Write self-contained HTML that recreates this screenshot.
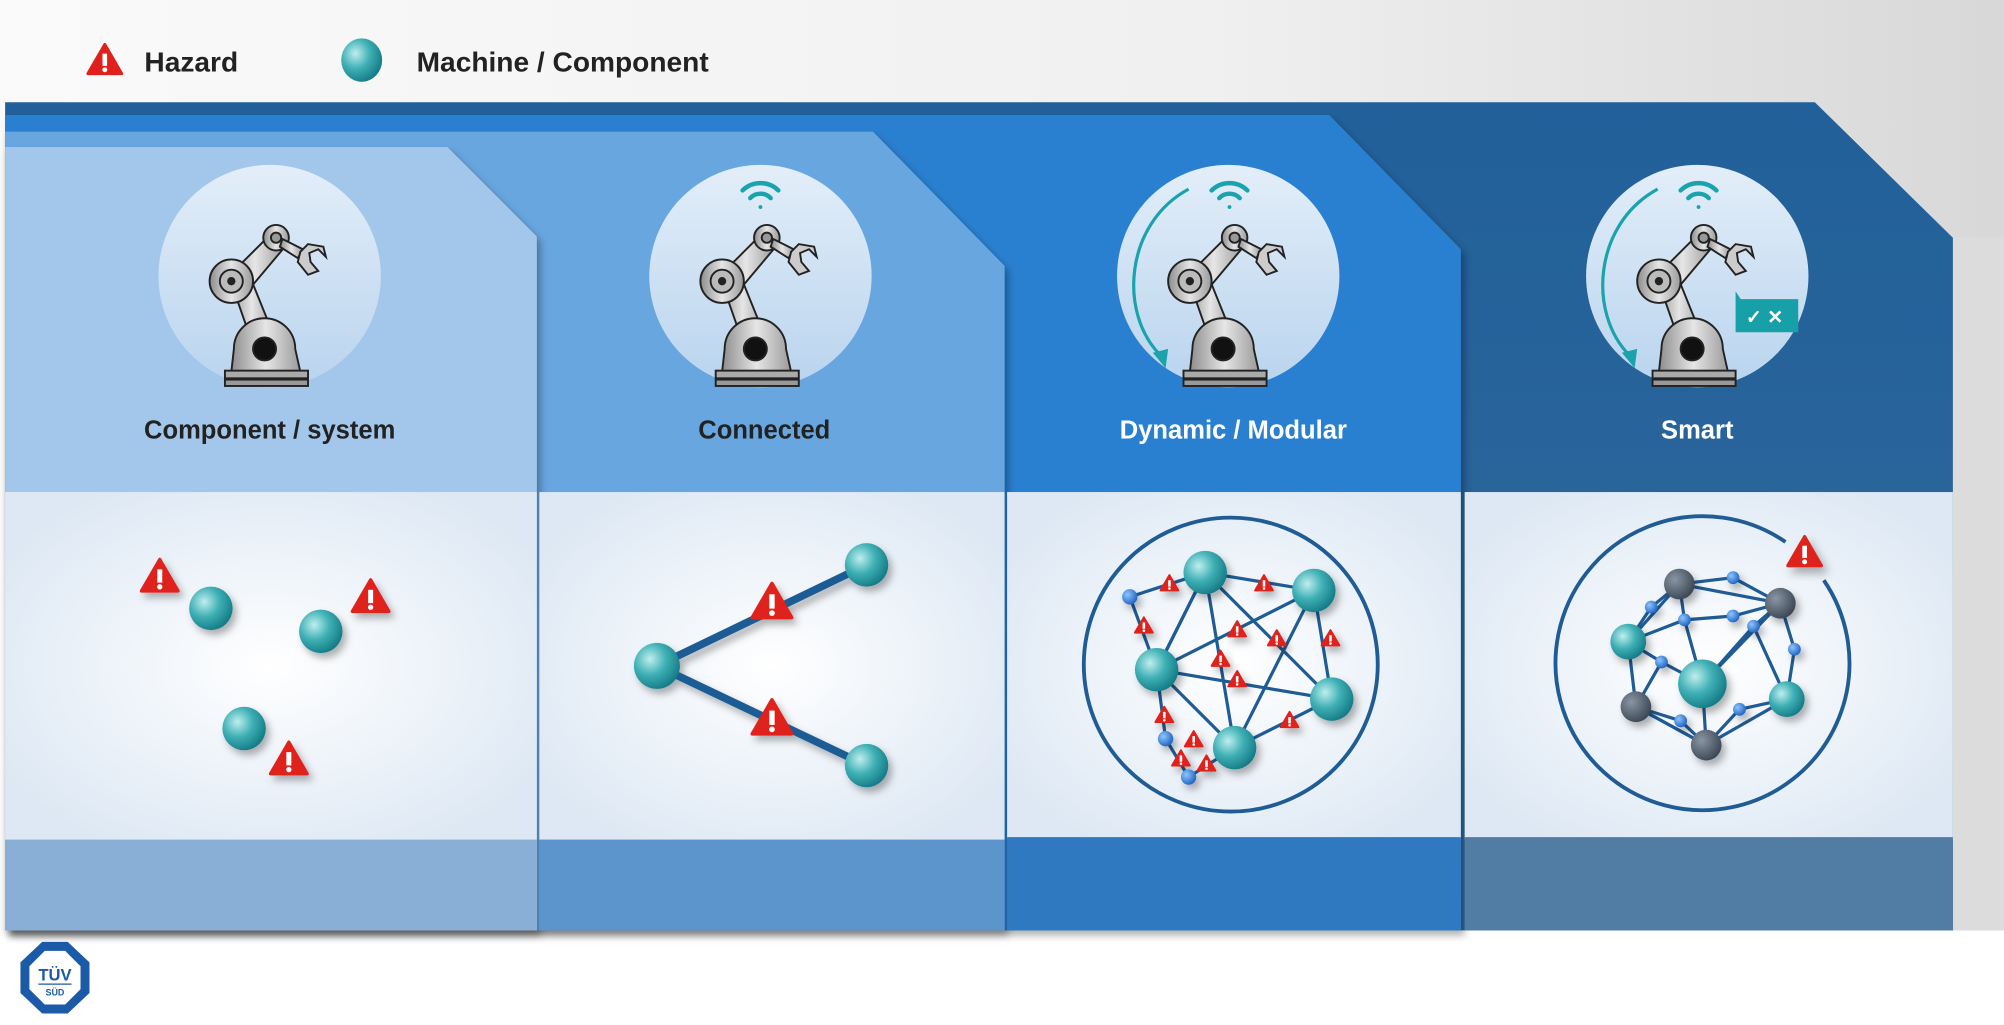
<!DOCTYPE html>
<html><head><meta charset="utf-8"><style>
html,body{margin:0;padding:0;background:#fff}
svg{display:block}
text{font-family:"Liberation Sans",sans-serif;font-weight:bold}
</style></head><body>
<svg width="2004" height="1025" viewBox="0 0 1568 802" preserveAspectRatio="none" xmlns="http://www.w3.org/2000/svg">
<defs>
<linearGradient id="bg" x1="0" x2="1" y1="0" y2="0"><stop offset="0" stop-color="#fafafa"/><stop offset="0.6" stop-color="#f0f0f0"/><stop offset="1" stop-color="#d8d8d8"/></linearGradient>
<linearGradient id="p4" x1="0" x2="0" y1="0" y2="1"><stop offset="0" stop-color="#21609a"/><stop offset="1" stop-color="#33699c"/></linearGradient>
<radialGradient id="sph" cx="0.35" cy="0.35" r="0.7"><stop offset="0" stop-color="#bfeeee"/><stop offset="0.5" stop-color="#3fb0b5"/><stop offset="1" stop-color="#137a85"/></radialGradient>
<radialGradient id="gsph" cx="0.35" cy="0.35" r="0.7"><stop offset="0" stop-color="#8a95a3"/><stop offset="1" stop-color="#3b4654"/></radialGradient>
<radialGradient id="bsph" cx="0.35" cy="0.35" r="0.7"><stop offset="0" stop-color="#8cc6ff"/><stop offset="1" stop-color="#1f62c0"/></radialGradient>
<radialGradient id="mid" cx="0.5" cy="0.5" r="0.6"><stop offset="0" stop-color="#ffffff"/><stop offset="1" stop-color="#dde8f4"/></radialGradient>
<linearGradient id="circ" x1="0" x2="0" y1="0" y2="1"><stop offset="0" stop-color="#e3eef9"/><stop offset="1" stop-color="#b9d4ee"/></linearGradient>
<linearGradient id="metal" x1="0" x2="1"><stop offset="0" stop-color="#8d8d8d"/><stop offset="0.5" stop-color="#e6e6e6"/><stop offset="1" stop-color="#9a9a9a"/></linearGradient>
<g id="haz"><path d="M0,-11 L11,8 L-11,8 Z" fill="#e0201c" stroke="#e0201c" stroke-width="2" stroke-linejoin="round"/><rect x="-1.5" y="-5" width="3" height="8" fill="#fff"/><circle cx="0" cy="5.5" r="1.6" fill="#fff"/></g>
<g id="hazs"><path d="M0,-7 L7,5 L-7,5 Z" fill="#e0201c" stroke="#e0201c" stroke-width="1.5" stroke-linejoin="round"/><rect x="-1" y="-3" width="2" height="5" fill="#fff"/><circle cx="0" cy="3.5" r="1" fill="#fff"/></g>
<g id="robot" stroke="#222" stroke-width="1.5">
<path d="M-33,-2 L-20,-10 L5,52 L-12,58 Z" fill="url(#metal)"/>
<path d="M-35,8 L-25,-6 L4,-35 L12,-22 L-20,16 Z" fill="url(#metal)"/>
<circle cx="-30" cy="5" r="17" fill="url(#metal)"/><circle cx="-30" cy="5" r="9" fill="#bbb"/><circle cx="-30" cy="5" r="2.5" fill="#222"/>
<circle cx="5" cy="-29" r="10" fill="url(#metal)"/><circle cx="5" cy="-29" r="4" fill="#999"/>
<path d="M10,-28 L26,-20 L22,-13 L8,-22 Z" fill="url(#metal)"/>
<path d="M24,-18 L30,-24 L42,-22 L44,-14 L38,-20 L31,-17 L32,-10 L38,-3 L30,0 L22,-10 Z" fill="#ccc"/>
<path d="M-28,58 A22,22 0 0 1 20,58 L24,76 L-30,76 Z" fill="url(#metal)"/>
<circle cx="-4" cy="58" r="9" fill="#111"/>
<rect x="-35" y="75" width="65" height="6" fill="#aaa"/><rect x="-35" y="82" width="65" height="5" fill="#999"/>
</g>
<g id="wifi" fill="none" stroke="#1aa3ad" stroke-width="3.5" stroke-linecap="round"><path d="M-14,-6 A20,20 0 0 1 14,-6"/><path d="M-8,0 A11,11 0 0 1 8,0"/><circle cx="0" cy="7" r="1.5" fill="#1aa3ad" stroke="none"/></g>
<filter id="sh" x="-50%" y="-50%" width="200%" height="200%"><feDropShadow dx="3" dy="4" stdDeviation="3" flood-opacity="0.3"/></filter>
</defs>

<rect width="1568" height="802" fill="url(#bg)"/>
<rect x="0" y="728" width="1568" height="74" fill="#fff"/>
<rect x="1528" y="186" width="40" height="542" fill="#dcdcdc"/>

<!-- legend -->
<use href="#haz" transform="translate(82,48) scale(1.2)"/>
<text x="113" y="56" font-size="22" fill="#222">Hazard</text>
<ellipse cx="283" cy="47" rx="16" ry="17" fill="url(#sph)"/>
<text x="326" y="56" font-size="22" fill="#222">Machine / Component</text>

<!-- panel 4 -->
<path d="M4,80 L1420,80 L1528,186 L1528,728 L4,728 Z" fill="url(#p4)"/>
<!-- panel 3 -->
<path d="M4,90 L1040,90 L1143,195 L1143,728 L4,728 Z" fill="#2a80d0" filter="url(#sh)"/>
<!-- panel 2 -->
<path d="M4,103 L683,103 L786,208 L786,728 L4,728 Z" fill="#68a6df" filter="url(#sh)"/>
<!-- panel 1 -->
<path d="M4,115 L350,115 L420,185 L420,728 L4,728 Z" fill="#a3c7eb" filter="url(#sh)"/>

<!-- middle -->
<rect x="4" y="385" width="416" height="272" fill="url(#mid)"/>
<rect x="422" y="385" width="364" height="272" fill="url(#mid)"/>
<rect x="788" y="385" width="355" height="272" fill="url(#mid)"/>
<rect x="1146" y="385" width="382" height="272" fill="url(#mid)"/>
<!-- bottom -->
<rect x="4" y="657" width="416" height="71" fill="#8aafd6"/>
<rect x="422" y="657" width="364" height="71" fill="#5b95cc"/>
<rect x="788" y="655" width="355" height="73" fill="#2e79bf"/>
<rect x="1146" y="655" width="382" height="73" fill="#517ca4"/>

<!-- header circles -->
<circle cx="211" cy="216" r="87" fill="url(#circ)"/>
<circle cx="595" cy="216" r="87" fill="url(#circ)"/>
<circle cx="961" cy="216" r="87" fill="url(#circ)"/>
<circle cx="1328" cy="216" r="87" fill="url(#circ)"/>
<use href="#robot" transform="translate(211,215)"/>
<use href="#robot" transform="translate(595,215)"/>
<use href="#robot" transform="translate(961,215)"/>
<use href="#robot" transform="translate(1328,215)"/>
<use href="#wifi" transform="translate(595,155)"/>
<use href="#wifi" transform="translate(962,155)"/>
<use href="#wifi" transform="translate(1329,155)"/>
<path d="M930,148 C880,175 875,245 908,278" fill="none" stroke="#1aa3ad" stroke-width="2.5"/><path d="M902,276 L912,288 L914,273 Z" fill="#1aa3ad"/>
<path d="M1297,148 C1247,175 1242,245 1275,278" fill="none" stroke="#1aa3ad" stroke-width="2.5"/><path d="M1269,276 L1279,288 L1281,273 Z" fill="#1aa3ad"/>
<path d="M1358,228 L1362,234 L1407,234 L1407,260 L1358,260 Z" fill="#18a0a8"/>
<text x="1366" y="253" font-size="15" fill="#fff">✓ ✕</text>

<text x="211" y="343" font-size="20" fill="#222" text-anchor="middle">Component / system</text>
<text x="598" y="343" font-size="20" fill="#222" text-anchor="middle">Connected</text>
<text x="965" y="343" font-size="20" fill="#fff" text-anchor="middle">Dynamic / Modular</text>
<text x="1328" y="343" font-size="20" fill="#fff" text-anchor="middle">Smart</text>

<!-- panel1 content -->
<g filter="url(#sh)">
<use href="#haz" transform="translate(125,452) scale(1.3)"/>
<use href="#haz" transform="translate(290,468) scale(1.3)"/>
<use href="#haz" transform="translate(226,595) scale(1.3)"/>
<circle cx="165" cy="476" r="17" fill="url(#sph)"/>
<circle cx="251" cy="494" r="17" fill="url(#sph)"/>
<circle cx="191" cy="570" r="17" fill="url(#sph)"/>
</g>
<!-- panel2 -->
<g filter="url(#sh)">
<path d="M678,442 L514,521 L678,599" fill="none" stroke="#1f5b94" stroke-width="6"/>
<circle cx="514" cy="521" r="18" fill="url(#sph)"/>
<circle cx="678" cy="442" r="17" fill="url(#sph)"/>
<circle cx="678" cy="599" r="17" fill="url(#sph)"/>
<use href="#haz" transform="translate(604,472) scale(1.4)"/>
<use href="#haz" transform="translate(604,563) scale(1.4)"/>
</g>
<!-- panel3 -->
<circle cx="963" cy="520" r="115" fill="none" stroke="#1f5b94" stroke-width="3"/>
<g stroke="#1f5b94" stroke-width="2.5" fill="none">
<path d="M943,448 L1028,462 L1042,547 L966,585 L905,524 Z"/>
<path d="M943,448 L905,524 M943,448 L966,585 M943,448 L1042,547 M1028,462 L905,524 M1028,462 L966,585 M905,524 L1042,547 M884,467 L943,448 M884,467 L905,524 M905,524 L912,578 L930,608 L966,585"/>
</g>
<g filter="url(#sh)">
<circle cx="943" cy="448" r="17" fill="url(#sph)"/>
<circle cx="1028" cy="462" r="17" fill="url(#sph)"/>
<circle cx="905" cy="524" r="17" fill="url(#sph)"/>
<circle cx="1042" cy="547" r="17" fill="url(#sph)"/>
<circle cx="966" cy="585" r="17" fill="url(#sph)"/>
<circle cx="884" cy="467" r="6" fill="url(#bsph)"/>
<circle cx="912" cy="578" r="6" fill="url(#bsph)"/>
<circle cx="930" cy="608" r="6" fill="url(#bsph)"/>
<use href="#hazs" transform="translate(915,457)"/>
<use href="#hazs" transform="translate(989,457)"/>
<use href="#hazs" transform="translate(895,490)"/>
<use href="#hazs" transform="translate(968,493)"/>
<use href="#hazs" transform="translate(999,500)"/>
<use href="#hazs" transform="translate(1041,500)"/>
<use href="#hazs" transform="translate(955,516)"/>
<use href="#hazs" transform="translate(968,532)"/>
<use href="#hazs" transform="translate(911,560)"/>
<use href="#hazs" transform="translate(1009,564)"/>
<use href="#hazs" transform="translate(934,579)"/>
<use href="#hazs" transform="translate(924,594)"/>
<use href="#hazs" transform="translate(944,598)"/>
</g>
<!-- panel4 -->
<path d="M1397,424 A115,115 0 1 0 1427,454" fill="none" stroke="#1f5b94" stroke-width="3"/>
<use href="#haz" transform="translate(1412,433) scale(1.2)" filter="url(#sh)"/>
<g stroke="#1f5b94" stroke-width="2.5" fill="none">
<path d="M1314,457 L1356,452 L1393,472 L1404,508 L1398,547 L1335,583 L1280,553 L1274,502 L1314,457"/>
<path d="M1314,457 L1393,472 M1314,457 L1318,485 L1332,535 M1274,502 L1318,485 L1356,482 L1393,472 M1393,472 L1332,535 M1393,472 L1372,490 L1398,547 M1274,502 L1300,518 L1332,535 M1280,553 L1300,518 M1332,535 L1372,490 M1332,535 L1335,583 M1280,553 L1315,564 L1335,583 M1398,547 L1361,555 L1335,583 M1274,502 L1292,475 L1314,457 M1280,553 L1335,583"/>
</g>
<g filter="url(#sh)">
<circle cx="1314" cy="457" r="12" fill="url(#gsph)"/>
<circle cx="1393" cy="472" r="12" fill="url(#gsph)"/>
<circle cx="1280" cy="553" r="12" fill="url(#gsph)"/>
<circle cx="1335" cy="583" r="12" fill="url(#gsph)"/>
<circle cx="1274" cy="502" r="14" fill="url(#sph)"/>
<circle cx="1332" cy="535" r="19" fill="url(#sph)"/>
<circle cx="1398" cy="547" r="14" fill="url(#sph)"/>
<circle cx="1356" cy="452" r="5" fill="url(#bsph)"/>
<circle cx="1292" cy="475" r="5" fill="url(#bsph)"/>
<circle cx="1318" cy="485" r="5" fill="url(#bsph)"/>
<circle cx="1356" cy="482" r="5" fill="url(#bsph)"/>
<circle cx="1404" cy="508" r="5" fill="url(#bsph)"/>
<circle cx="1300" cy="518" r="5" fill="url(#bsph)"/>
<circle cx="1372" cy="490" r="5" fill="url(#bsph)"/>
<circle cx="1315" cy="564" r="5" fill="url(#bsph)"/>
<circle cx="1361" cy="555" r="5" fill="url(#bsph)"/>
</g>

<!-- TUV logo -->
<g transform="translate(43,765)">
<path d="M-10,-28 L10,-28 L27,-12 L27,12 L10,28 L-10,28 L-27,12 L-27,-12 Z" fill="#1b5aa6"/>
<path d="M-8,-21 L8,-21 L20,-9 L20,9 L8,21 L-8,21 L-20,9 L-20,-9 Z" fill="#fff"/>
<text x="0" y="2" font-size="13" fill="#1b5aa6" text-anchor="middle">TÜV</text>
<line x1="-13" y1="5" x2="13" y2="5" stroke="#1b5aa6" stroke-width="1"/>
<text x="0" y="14" font-size="7" fill="#1b5aa6" text-anchor="middle">SÜD</text>
</g>
</svg>
</body></html>
